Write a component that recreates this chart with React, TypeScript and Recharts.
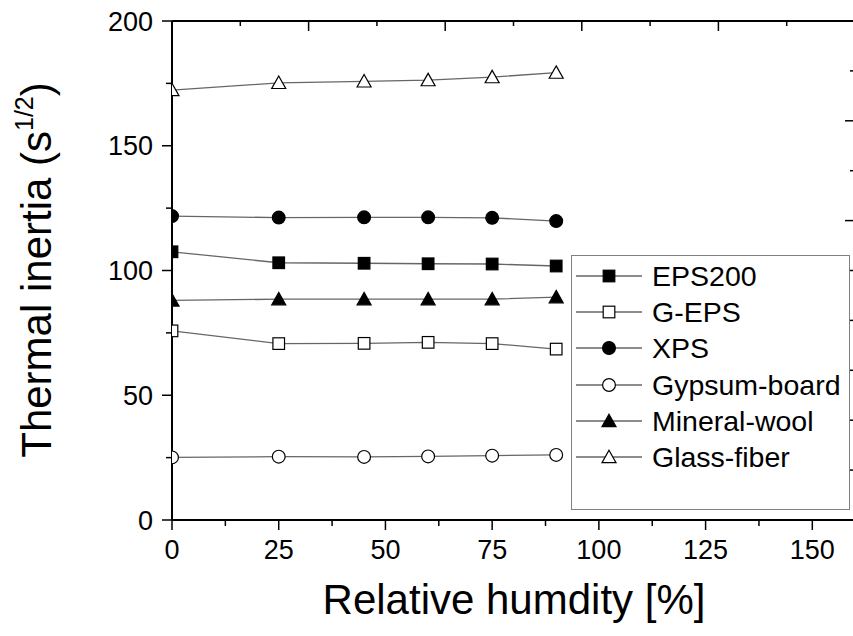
import React from 'react';
import { LineChart, Line, XAxis, YAxis, Legend } from 'recharts';

const FONT = '"Liberation Sans", Arial, Helvetica, sans-serif';

// relative humidity [%]
const humidity = [0, 25, 45, 60, 75, 90];

// thermal inertia (s^1/2)
const eps200 = [107.5, 103.1, 102.9, 102.7, 102.6, 101.8];
const gEps = [75.8, 70.7, 70.8, 71.2, 70.7, 68.5];
const xps = [121.8, 121.2, 121.3, 121.3, 121.1, 119.8];
const gypsum = [25.1, 25.4, 25.3, 25.5, 25.8, 26.1];
const mineralWool = [88.0, 88.5, 88.5, 88.5, 88.5, 89.3];
const glassFiber = [172.3, 175.2, 175.8, 176.3, 177.5, 179.3];

const bottomTicks = [0, 12.5, 25, 37.5, 50, 62.5, 75, 87.5, 100, 112.5, 125, 137.5, 150];
const leftTicks = [0, 25, 50, 75, 100, 125, 150, 175, 200];
const topTicks = [16, 32, 48, 64, 80, 96, 112, 128, 144];
const rightTicks = [20, 40, 60, 80, 100, 120, 140, 160, 180, 200];

const series = [
  { key: 'eps200', name: 'EPS200', values: eps200, shape: 'square', filled: true },
  { key: 'gEps', name: 'G-EPS', values: gEps, shape: 'square', filled: false },
  { key: 'xps', name: 'XPS', values: xps, shape: 'circle', filled: true },
  { key: 'gypsum', name: 'Gypsum-board', values: gypsum, shape: 'circle', filled: false },
  { key: 'mineralWool', name: 'Mineral-wool', values: mineralWool, shape: 'triangle', filled: true },
  { key: 'glassFiber', name: 'Glass-fiber', values: glassFiber, shape: 'triangle', filled: false },
];

const data = humidity.map((h, i) => {
  const row: Record<string, number> = { x: h };
  series.forEach((s) => { row[s.key] = s.values[i]; });
  return row;
});

function Marker({ cx, cy, shape, filled }: { cx: number; cy: number; shape: string; filled: boolean }) {
  const fill = filled ? '#000' : '#fff';
  if (shape === 'square') {
    return <rect x={cx - 5.8} y={cy - 5.8} width={11.6} height={11.6} fill={fill} stroke="#000" strokeWidth={1.2} />;
  }
  if (shape === 'circle') {
    return <circle cx={cx} cy={cy} r={6.4} fill={fill} stroke="#000" strokeWidth={1.2} />;
  }
  const pts = `${cx},${cy - 6.8} ${cx + 7},${cy + 5.6} ${cx - 7},${cy + 5.6}`;
  return <polygon points={pts} fill={fill} stroke="#000" strokeWidth={1.2} />;
}

const makeDot = (shape: string, filled: boolean) => (p: any) => (
  <Marker key={`d-${p.index}`} cx={p.cx} cy={p.cy} shape={shape} filled={filled} />
);

function BottomTick(p: any) {
  const v = p.payload.value;
  const major = v % 25 === 0;
  return (
    <g>
      <line x1={p.x} y1={p.y} x2={p.x} y2={p.y + (major ? 10 : 6)} stroke="#000" strokeWidth={1.5} />
      {major && (
        <text x={p.x} y={p.y + 39} textAnchor="middle" fontSize={27} fontFamily={FONT} fill="#000">{v}</text>
      )}
    </g>
  );
}

function LeftTick(p: any) {
  const v = p.payload.value;
  const major = v % 50 === 0;
  return (
    <g>
      <line x1={p.x} y1={p.y} x2={p.x - (major ? 10 : 6)} y2={p.y} stroke="#000" strokeWidth={1.5} />
      {major && (
        <text x={p.x - 19} y={p.y + 9.5} textAnchor="end" fontSize={27} fontFamily={FONT} fill="#000">{v}</text>
      )}
    </g>
  );
}

function TopTick(p: any) {
  const major = p.payload.value % 32 === 0;
  return <line x1={p.x} y1={p.y} x2={p.x} y2={p.y + (major ? 10 : 5)} stroke="#000" strokeWidth={1.5} />;
}

function RightTick(p: any) {
  const major = p.payload.value % 40 === 0;
  return <line x1={p.x} y1={p.y} x2={p.x - (major ? 10 : 5)} y2={p.y} stroke="#000" strokeWidth={1.5} />;
}

function XTitle() {
  return (
    <text x={514} y={614} textAnchor="middle" fontSize={42} fontFamily={FONT} fill="#000">
      Relative humdity [%]
    </text>
  );
}

function YTitle() {
  return (
    <text transform="rotate(-90)" x={-270} y={51} textAnchor="middle" fontSize={42} fontFamily={FONT} fill="#000">
      Thermal inertia (s
      <tspan dy={-18} fontSize={25}>1/2</tspan>
      <tspan dy={18}>)</tspan>
    </text>
  );
}

function LegendBox() {
  return (
    <div
      style={{
        boxSizing: 'border-box',
        width: 279,
        height: 255,
        border: '1.5px solid #808080',
        background: '#fff',
        paddingTop: 2,
        fontFamily: FONT,
      }}
    >
      {series.map((s) => (
        <div key={s.key} style={{ display: 'flex', alignItems: 'center', height: 36.2 }}>
          <svg width={80} height={36} style={{ flex: 'none' }}>
            <line x1={4} y1={18} x2={70} y2={18} stroke="#666" strokeWidth={1.3} />
            <Marker cx={37} cy={18} shape={s.shape} filled={s.filled} />
          </svg>
          <span style={{ fontSize: 28.5, color: '#000', lineHeight: '36px', whiteSpace: 'nowrap' }}>{s.name}</span>
        </div>
      ))}
    </div>
  );
}

export default function App() {
  return (
    <div
      style={{
        position: 'absolute',
        left: 0,
        top: 0,
        width: 853,
        height: 636,
        overflow: 'hidden',
        background: '#fff',
      }}
    >
      <LineChart
        width={870}
        height={636}
        data={data}
        margin={{ top: 20, right: 0, bottom: 0, left: 0 }}
        style={{ fontFamily: FONT }}
      >
        <XAxis
          xAxisId="b"
          type="number"
          dataKey="x"
          domain={[0, 160]}
          ticks={bottomTicks}
          interval={0}
          allowDataOverflow
          height={116}
          tickSize={0}
          tickMargin={0}
          tickLine={false}
          tick={BottomTick}
          axisLine={{ stroke: '#000', strokeWidth: 2 }}
          label={<XTitle />}
        />
        <XAxis
          xAxisId="t"
          orientation="top"
          type="number"
          dataKey="x"
          domain={[0, 160]}
          ticks={topTicks}
          interval={0}
          allowDataOverflow
          height={1}
          tickSize={0}
          tickMargin={0}
          tickLine={false}
          tick={TopTick}
          axisLine={{ stroke: '#000', strokeWidth: 2 }}
        />
        <YAxis
          yAxisId="l"
          type="number"
          domain={[0, 200]}
          ticks={leftTicks}
          interval={0}
          allowDataOverflow
          width={172}
          tickSize={0}
          tickMargin={0}
          tickLine={false}
          tick={LeftTick}
          axisLine={{ stroke: '#000', strokeWidth: 2 }}
          label={<YTitle />}
        />
        <YAxis
          yAxisId="r"
          orientation="right"
          type="number"
          domain={[0, 200]}
          ticks={rightTicks}
          interval={0}
          allowDataOverflow
          width={15}
          tickSize={0}
          tickMargin={0}
          tickLine={false}
          tick={RightTick}
          axisLine={{ stroke: '#000', strokeWidth: 2 }}
        />
        <Legend
          layout="vertical"
          align="center"
          verticalAlign="middle"
          content={() => <LegendBox />}
          wrapperStyle={{ left: 571, top: 255, width: 279, height: 255 }}
        />
        {series.map((s) => (
          <Line
            key={s.key}
            xAxisId="b"
            yAxisId="l"
            dataKey={s.key}
            name={s.name}
            stroke="#666"
            strokeWidth={1.3}
            dot={makeDot(s.shape, s.filled)}
            activeDot={false}
            isAnimationActive={false}
          />
        ))}
      </LineChart>
    </div>
  );
}
